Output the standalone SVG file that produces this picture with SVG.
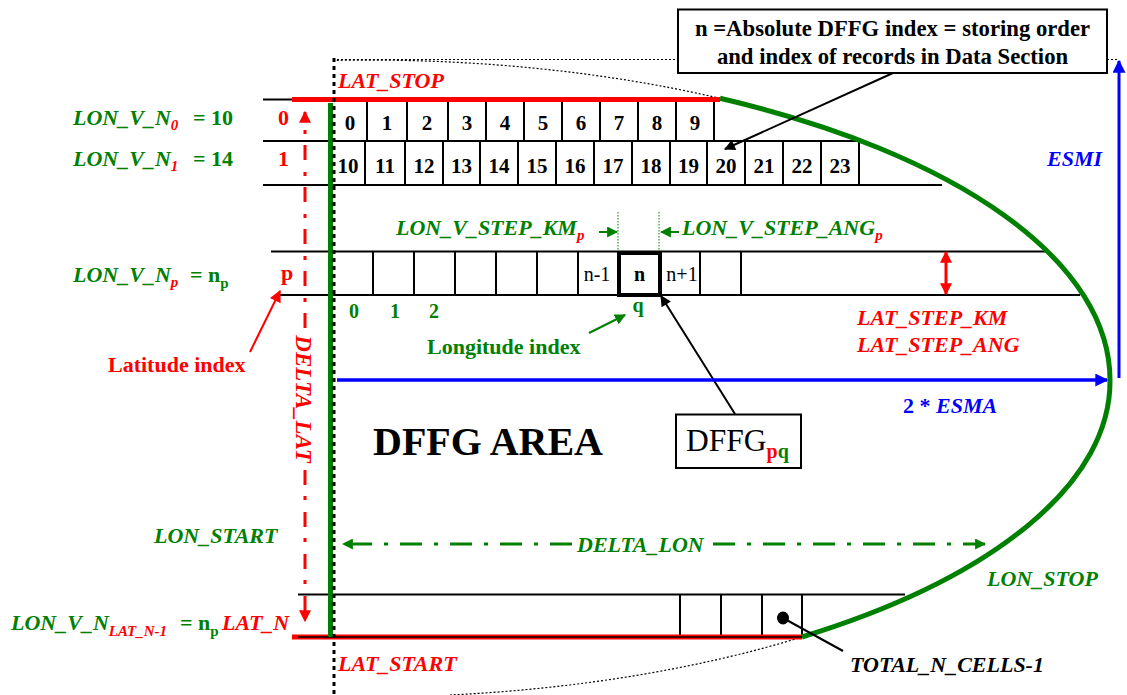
<svg xmlns="http://www.w3.org/2000/svg" width="1127" height="695" viewBox="0 0 1127 695">
<style>
text{font-family:"Liberation Serif","Times New Roman",serif}
.ln{stroke:#000;stroke-width:2;fill:none}
.num{font-weight:bold;font-size:21px;text-anchor:middle;fill:#000}
.gbi{fill:#008000;font-weight:bold;font-style:italic;font-size:22px}
.rbi{fill:#ff0000;font-weight:bold;font-style:italic;font-size:22px}
.bbi{fill:#0000ff;font-weight:bold;font-style:italic;font-size:22px}
.kbi{fill:#000;font-weight:bold;font-style:italic;font-size:22px}
.up{font-style:normal}
.sub{font-size:15px}
.r{fill:#ff0000}
.g{fill:#008000}
.rb{fill:#ff0000;font-weight:bold;font-size:22px}
.gb{fill:#008000;font-weight:bold;font-size:22px}
.dot1{stroke:#000;stroke-width:1.2;stroke-dasharray:2,2;fill:none}
</style>
<defs>
<marker id="ak" viewBox="0 0 10 10" refX="9" refY="5" markerWidth="15" markerHeight="11" markerUnits="userSpaceOnUse" orient="auto-start-reverse"><path d="M0,0L10,5L0,10z" fill="#000"/></marker>
<marker id="ar" viewBox="0 0 10 10" refX="9" refY="5" markerWidth="14" markerHeight="12" markerUnits="userSpaceOnUse" orient="auto-start-reverse"><path d="M0,0L10,5L0,10z" fill="#ff0000"/></marker>
<marker id="ag" viewBox="0 0 10 10" refX="9" refY="5" markerWidth="11" markerHeight="11" markerUnits="userSpaceOnUse" orient="auto-start-reverse"><path d="M0,0L10,5L0,10z" fill="#008000"/></marker>
<marker id="ab" viewBox="0 0 10 10" refX="9" refY="5" markerWidth="13" markerHeight="13" markerUnits="userSpaceOnUse" orient="auto-start-reverse"><path d="M0,0L10,5L0,10z" fill="#0000ff"/></marker>
</defs>

<g id="ellipse">
<path class="dot1" d="M720,98.3 A742,320 0 0 0 334,60.4"/>
<path class="dot1" d="M802,637 A742,315 0 0 1 450,695"/>
<path d="M333,59.5H678 M1107,59.5H1118" class="dot1"/>
</g>

<g id="row0">
<path class="ln" d="M263,99.5H292 M263,141H859 M367,100V141 M407,100V141 M448,100V141 M486,100V141 M524,100V141 M562,100V141 M600,100V141 M638,100V141 M676,100V141 M714,100V141"/>
<path d="M292,99.5H720" stroke="#ff0000" stroke-width="5"/>
<g class="num">
<text x="350" y="130">0</text><text x="387" y="130">1</text><text x="427" y="130">2</text><text x="467" y="130">3</text><text x="505" y="130">4</text><text x="543" y="130">5</text><text x="581" y="130">6</text><text x="619" y="130">7</text><text x="657" y="130">8</text><text x="695" y="130">9</text>
</g>
</g>

<g id="row1">
<path class="ln" d="M263,185H942 M365,141V185 M405,141V185 M443,141V185 M480,141V185 M518,141V185 M556,141V185 M594,141V185 M632,141V185 M670,141V185 M707,141V185 M745,141V185 M783,141V185 M821,141V185 M859,141V185"/>
<g class="num">
<text x="348" y="173">10</text><text x="385" y="173">11</text><text x="424" y="173">12</text><text x="461.5" y="173">13</text><text x="499" y="173">14</text><text x="537" y="173">15</text><text x="575" y="173">16</text><text x="613" y="173">17</text><text x="651" y="173">18</text><text x="688.5" y="173">19</text><text x="726" y="173">20</text><text x="764" y="173">21</text><text x="802" y="173">22</text><text x="840" y="173">23</text>
</g>
</g>

<g id="rowp">
<path class="ln" d="M271,251.5H1047 M280,295H1080 M373,252V295 M414,252V295 M455,252V295 M496,252V295 M537,252V295 M578,252V295 M700,252V295 M741,252V295"/>
<rect x="619" y="253" width="41" height="42" fill="none" stroke="#000" stroke-width="4"/>
<text x="597" y="281" font-size="20" text-anchor="middle">n-1</text>
<text x="639.5" y="281" font-size="20" font-weight="bold" text-anchor="middle">n</text>
<text x="682" y="281" font-size="20" text-anchor="middle">n+1</text>
<g class="gb" text-anchor="middle" style="font-size:20px">
<text x="354" y="318">0</text><text x="395" y="318">1</text><text x="434" y="318">2</text><text x="638" y="312">q</text>
</g>
</g>

<g id="rowlast">
<path class="ln" d="M298,594.5H905 M680,594V637 M721,594V637 M762,594V637 M802,594V637"/>
<path d="M292,637H802" stroke="#ff0000" stroke-width="5"/>
<path d="M298,637H802" stroke="#000" stroke-width="1.5"/>
<ellipse cx="783" cy="618" rx="6" ry="6.5" fill="#000"/>
</g>

<g id="boundaries">
<path d="M720,98.3 A742,320 0 0 1 1110,380 A742,315 0 0 1 802,637" fill="none" stroke="#008000" stroke-width="5"/>
<path d="M330.5,103V637" stroke="#008000" stroke-width="5"/>
<path d="M334,58V695" stroke="#000" stroke-width="3" stroke-dasharray="4,4"/>
</g>

<g id="labels-left">
<text class="gbi" x="73" y="125">LON_V_N<tspan class="sub r" y="130">0</tspan><tspan class="up" x="193" y="125">= 10</tspan></text>
<text class="gbi" x="73" y="166">LON_V_N<tspan class="sub r" y="171">1</tspan><tspan class="up" x="193" y="166">= 14</tspan></text>
<text class="gbi" x="73" y="282">LON_V_N<tspan class="sub r" y="287">p</tspan><tspan class="up" x="190" y="282">= n</tspan><tspan class="up sub" y="288">p</tspan></text>
<text class="gbi" x="11" y="630">LON_V_N<tspan class="sub r" y="636">LAT_N-1</tspan><tspan class="up" x="180" y="630">= n</tspan><tspan class="up sub" y="636">p</tspan><tspan class="r" x="222" y="630">LAT_N</tspan></text>
<text class="rb" x="278" y="125">0</text>
<text class="rb" x="278" y="166">1</text>
<text class="rb" x="281" y="280">p</text>
<text class="rb" x="108" y="372">Latitude index</text>
<text class="gbi" x="154" y="543">LON_START</text>
<text class="rbi" x="338" y="88">LAT_STOP</text>
<text class="rbi" x="338" y="671">LAT_START</text>
<text class="rbi" transform="translate(296,399) rotate(90)" text-anchor="middle" style="font-size:23px">DELTA_LAT</text>
</g>

<g id="labels-mid">
<text class="gbi" x="396" y="235">LON_V_STEP_KM<tspan class="sub r" y="240">p</tspan></text>
<text class="gbi" x="682" y="235">LON_V_STEP_ANG<tspan class="sub r" y="240">p</tspan></text>
<path d="M618,212V251 M659,212V251" stroke="#008000" stroke-width="1" stroke-dasharray="1.5,1.5"/>
<text class="gb" x="427" y="354">Longitude index</text>
<text class="rbi" x="857" y="325">LAT_STEP_KM</text>
<text class="rbi" x="857" y="352">LAT_STEP_ANG</text>
<text x="903" y="413" style="fill:#0000ff;font-weight:bold;font-size:22px">2 * <tspan font-style="italic">ESMA</tspan></text>
<text class="bbi" x="1047" y="166">ESMI</text>
<text x="373" y="455" font-size="40" font-weight="bold" fill="#000">DFFG AREA</text>
<text class="gbi" x="577" y="552">DELTA_LON</text>
<text class="gbi" x="987" y="586">LON_STOP</text>
<text class="kbi" x="850" y="672">TOTAL_N_CELLS-1</text>
</g>

<g id="callout">
<rect x="678" y="9.5" width="429" height="63.5" fill="#fff" stroke="#000" stroke-width="2"/>
<text x="892.5" y="36" font-size="22.7" font-weight="bold" text-anchor="middle">n =Absolute DFFG index = storing order</text>
<text x="892.5" y="64" font-size="22.7" font-weight="bold" text-anchor="middle">and index of records in Data Section</text>
</g>

<g id="dffg-box">
<rect x="676" y="414.5" width="125" height="53.5" fill="#fff" stroke="#000" stroke-width="2"/>
<text x="686" y="451" font-size="31.5">DFFG<tspan font-size="20" font-weight="bold" fill="#ff0000" y="458">p</tspan><tspan font-size="20" font-weight="bold" fill="#008000" y="458">q</tspan></text>
</g>

<g id="connectors">
<path d="M893,73L725,149" stroke="#000" stroke-width="2" marker-end="url(#ak)"/>
<path d="M735,414L661,296" stroke="#000" stroke-width="2" marker-end="url(#ak)"/>
<path d="M783,618L843,651" stroke="#000" stroke-width="2"/>
<path d="M589,333L625,315" stroke="#008000" stroke-width="2" marker-end="url(#ag)"/>
<path d="M599,232H617" stroke="#008000" stroke-width="2" marker-end="url(#ag)"/>
<path d="M679,232H661" stroke="#008000" stroke-width="2" marker-end="url(#ag)"/>
<path d="M250,352L280,291" stroke="#ff0000" stroke-width="2" marker-end="url(#ar)"/>
<path d="M946,252V294" stroke="#ff0000" stroke-width="3" marker-start="url(#ar)" marker-end="url(#ar)"/>
<path d="M337,380H1107" stroke="#0000ff" stroke-width="3.5" marker-end="url(#ab)"/>
<path d="M1119,378V61" stroke="#0000ff" stroke-width="3" marker-end="url(#ab)"/>
<path d="M305,328V112" stroke="#ff0000" stroke-width="3" stroke-dasharray="15,11,4,12" marker-end="url(#ar)"/>
<path d="M305,470V621" stroke="#ff0000" stroke-width="3" stroke-dasharray="15,11,4,12" marker-end="url(#ar)"/>
<path d="M572,544H343" stroke="#008000" stroke-width="3" stroke-dasharray="22,12,4,12" marker-end="url(#ag)"/>
<path d="M713,544H985" stroke="#008000" stroke-width="3" stroke-dasharray="22,12,4,12" marker-end="url(#ag)"/>
</g>
</svg>
